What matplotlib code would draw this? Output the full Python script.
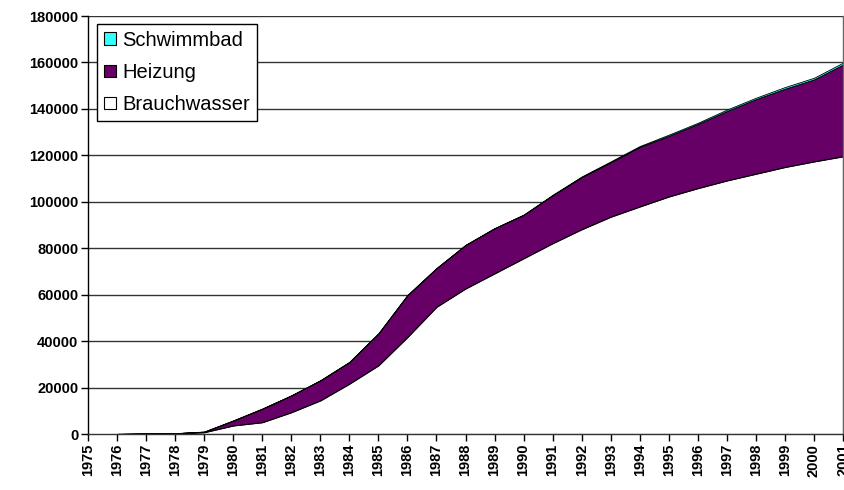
import numpy as np
import matplotlib
matplotlib.use("Agg")
from matplotlib import pyplot as plt
from matplotlib.patches import Patch

plt.rcParams['font.family'] = ['Liberation Sans', 'DejaVu Sans']

# axis categories
years = list(range(1975, 2002))
data_years = list(range(1976, 2002))

# series values, 1976..2001 (stacked: Brauchwasser, Heizung, Schwimmbad)
brauchwasser = [0, 200, 300, 800, 3700, 5100, 9400, 14500, 21700, 29600,
                41800, 54800, 62700, 69200, 75700, 82200, 88200, 93600,
                98000, 102300, 105900, 109200, 112100, 115000, 117400, 119600]
heizung = [0, 0, 0, 200, 2100, 5800, 7200, 8600, 9300, 13700,
           18000, 16600, 18700, 19400, 18700, 20600, 22400, 23400,
           25600, 26100, 27600, 29900, 32100, 33700, 35300, 39500]
schwimmbad = [0, 0, 0, 0, 0, 0, 0, 0, 0, 0,
              0, 0, 0, 0, 0, 200, 300, 400,
              400, 500, 500, 600, 600, 700, 700, 800]

yticks = list(range(0, 180001, 20000))

c_brauch = '#FFFFFF'
c_heiz = '#660066'
c_schwimm = '#33FFFF'

fig = plt.figure(figsize=(8.45, 4.9), dpi=100)
ax = fig.add_axes([88 / 845, 56 / 490, 755 / 845, 418 / 490])

x = np.array(data_years)
b = np.array(brauchwasser, dtype=float)
h = b + np.array(heizung, dtype=float)
s = h + np.array(schwimmbad, dtype=float)

ax.fill_between(x, 0, b, facecolor=c_brauch, edgecolor='black', linewidth=0.8, zorder=3)
ax.fill_between(x, b, h, facecolor=c_heiz, edgecolor='black', linewidth=0.8, zorder=3)
ax.fill_between(x, h, s, facecolor=c_schwimm, edgecolor='black', linewidth=0.6, zorder=3)

# horizontal gridlines behind the areas
for v in yticks[1:]:
    ax.axhline(v, color='#333333', linewidth=1.0, zorder=1)

ax.set_xlim(1975, 2001)
ax.set_ylim(0, 180000)
ax.set_xticks(years)
ax.set_xticklabels([str(yr) for yr in years], rotation=90, fontsize=10.5, fontweight='bold')
ax.set_yticks(yticks)
ax.set_yticklabels([str(v) for v in yticks], fontsize=10.5, fontweight='bold')
ax.tick_params(direction='out', length=5, width=1, color='black', pad=2)

ax.spines['top'].set_visible(False)
ax.spines['right'].set_color('#666666')
ax.spines['left'].set_color('black')
ax.spines['bottom'].set_color('#333333')
for sp in ax.spines.values():
    sp.set_linewidth(1.0)
    sp.set_zorder(4)

handles = [Patch(facecolor=c_schwimm, edgecolor='black', linewidth=0.8),
           Patch(facecolor=c_heiz, edgecolor='black', linewidth=0.8),
           Patch(facecolor=c_brauch, edgecolor='black', linewidth=0.8)]
leg = ax.legend(handles, ['Schwimmbad', 'Heizung', 'Brauchwasser'],
                loc='upper left', bbox_to_anchor=(0.012, 0.981), borderaxespad=0,
                fontsize=14.5, fancybox=False, shadow=False, framealpha=1,
                edgecolor='black', handlelength=0.6, handleheight=0.6,
                handletextpad=0.3, labelspacing=0.65, borderpad=0.35)
leg.get_frame().set_linewidth(1.0)
leg.set_zorder(5)

plt.savefig("out.png", dpi=100)
